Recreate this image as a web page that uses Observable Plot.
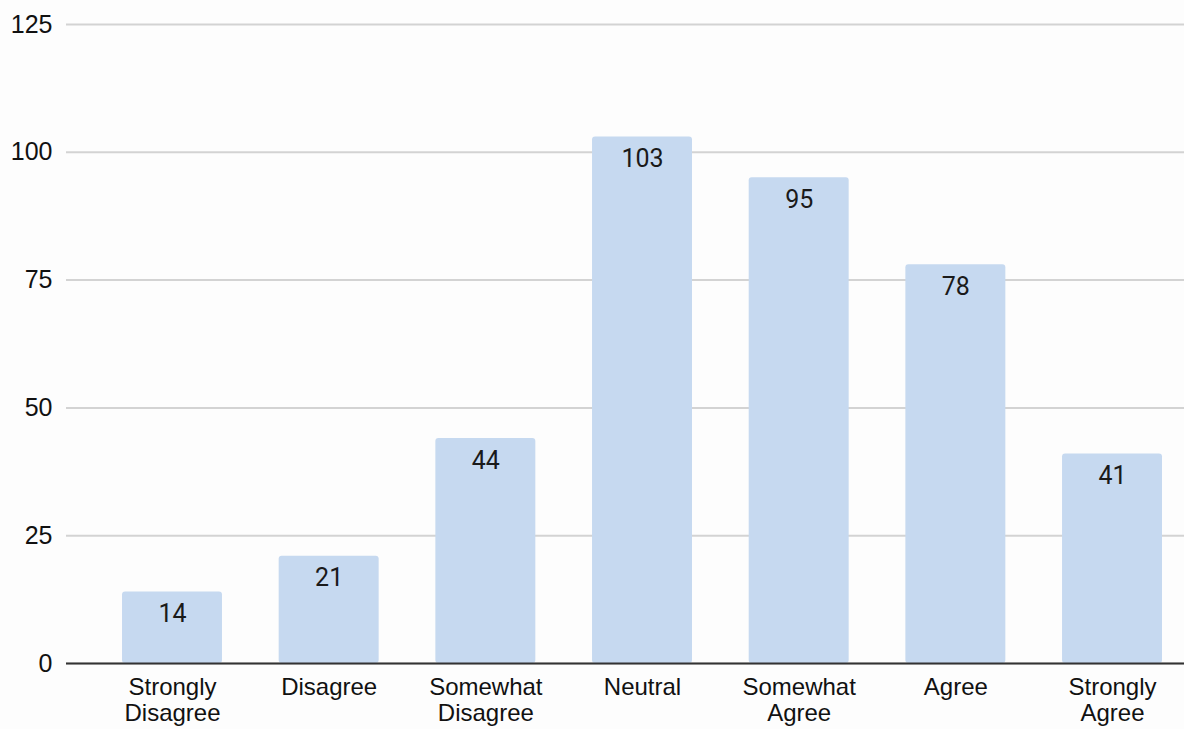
<!DOCTYPE html>
<html>
<head>
<meta charset="utf-8">
<script src="https://cdn.jsdelivr.net/npm/d3@7"></script>
<script src="https://cdn.jsdelivr.net/npm/@observablehq/plot@0.6"></script>
<style>
  html, body { margin: 0; padding: 0; background: #fdfdfd; }
  #chart svg { display: block; background: #fdfdfd; }
</style>
</head>
<body>
<div id="chart"></div>
<script>
const categories = ["Strongly Disagree", "Disagree", "Somewhat Disagree", "Neutral", "Somewhat Agree", "Agree", "Strongly Agree"];
const tickLabels = ["Strongly\nDisagree", "Disagree", "Somewhat\nDisagree", "Neutral", "Somewhat\nAgree", "Agree", "Strongly\nAgree"];
const counts = [14, 21, 44, 103, 95, 78, 41];
const yTicks = [0, 25, 50, 75, 100, 125];

const data = categories.map((c, i) => ({category: c, count: counts[i], tick: tickLabels[i]}));

const chart = Plot.plot({
  width: 1184,
  height: 729,
  marginLeft: 66,
  marginRight: 0,
  marginTop: 24,
  marginBottom: 66,
  style: {background: "#fdfdfd", fontFamily: "'Liberation Sans', Arial, sans-serif"},
  x: {domain: categories, paddingInner: 0.362, paddingOuter: 0.249, align: 0.718, round: false, axis: null},
  y: {domain: [0, 125], axis: null},
  marks: [
    Plot.gridY(yTicks, {stroke: "#d3d3d3", strokeOpacity: 1, strokeWidth: 2}),
    Plot.axisY(yTicks, {tickSize: 0, tickPadding: 14, fontSize: 25, fill: "#111", label: null}),
    Plot.barY(data, {x: "category", y: "count", fill: "#c6d9f0", rx: 3}),
    Plot.text(data, {x: "category", y: "count", text: d => String(d.count), dy: 22, fontSize: 25, fill: "#1a1a1a", fontFamily: "Roboto, sans-serif"}),
    Plot.ruleY([0], {stroke: "#333", strokeWidth: 2}),
    Plot.text(data, {x: "category", y: () => 0, text: "tick", lineAnchor: "top", dy: 14, fontSize: 24, lineHeight: 1.05, fill: "#111"})
  ]
});
document.getElementById("chart").appendChild(chart);
</script>
</body>
</html>
